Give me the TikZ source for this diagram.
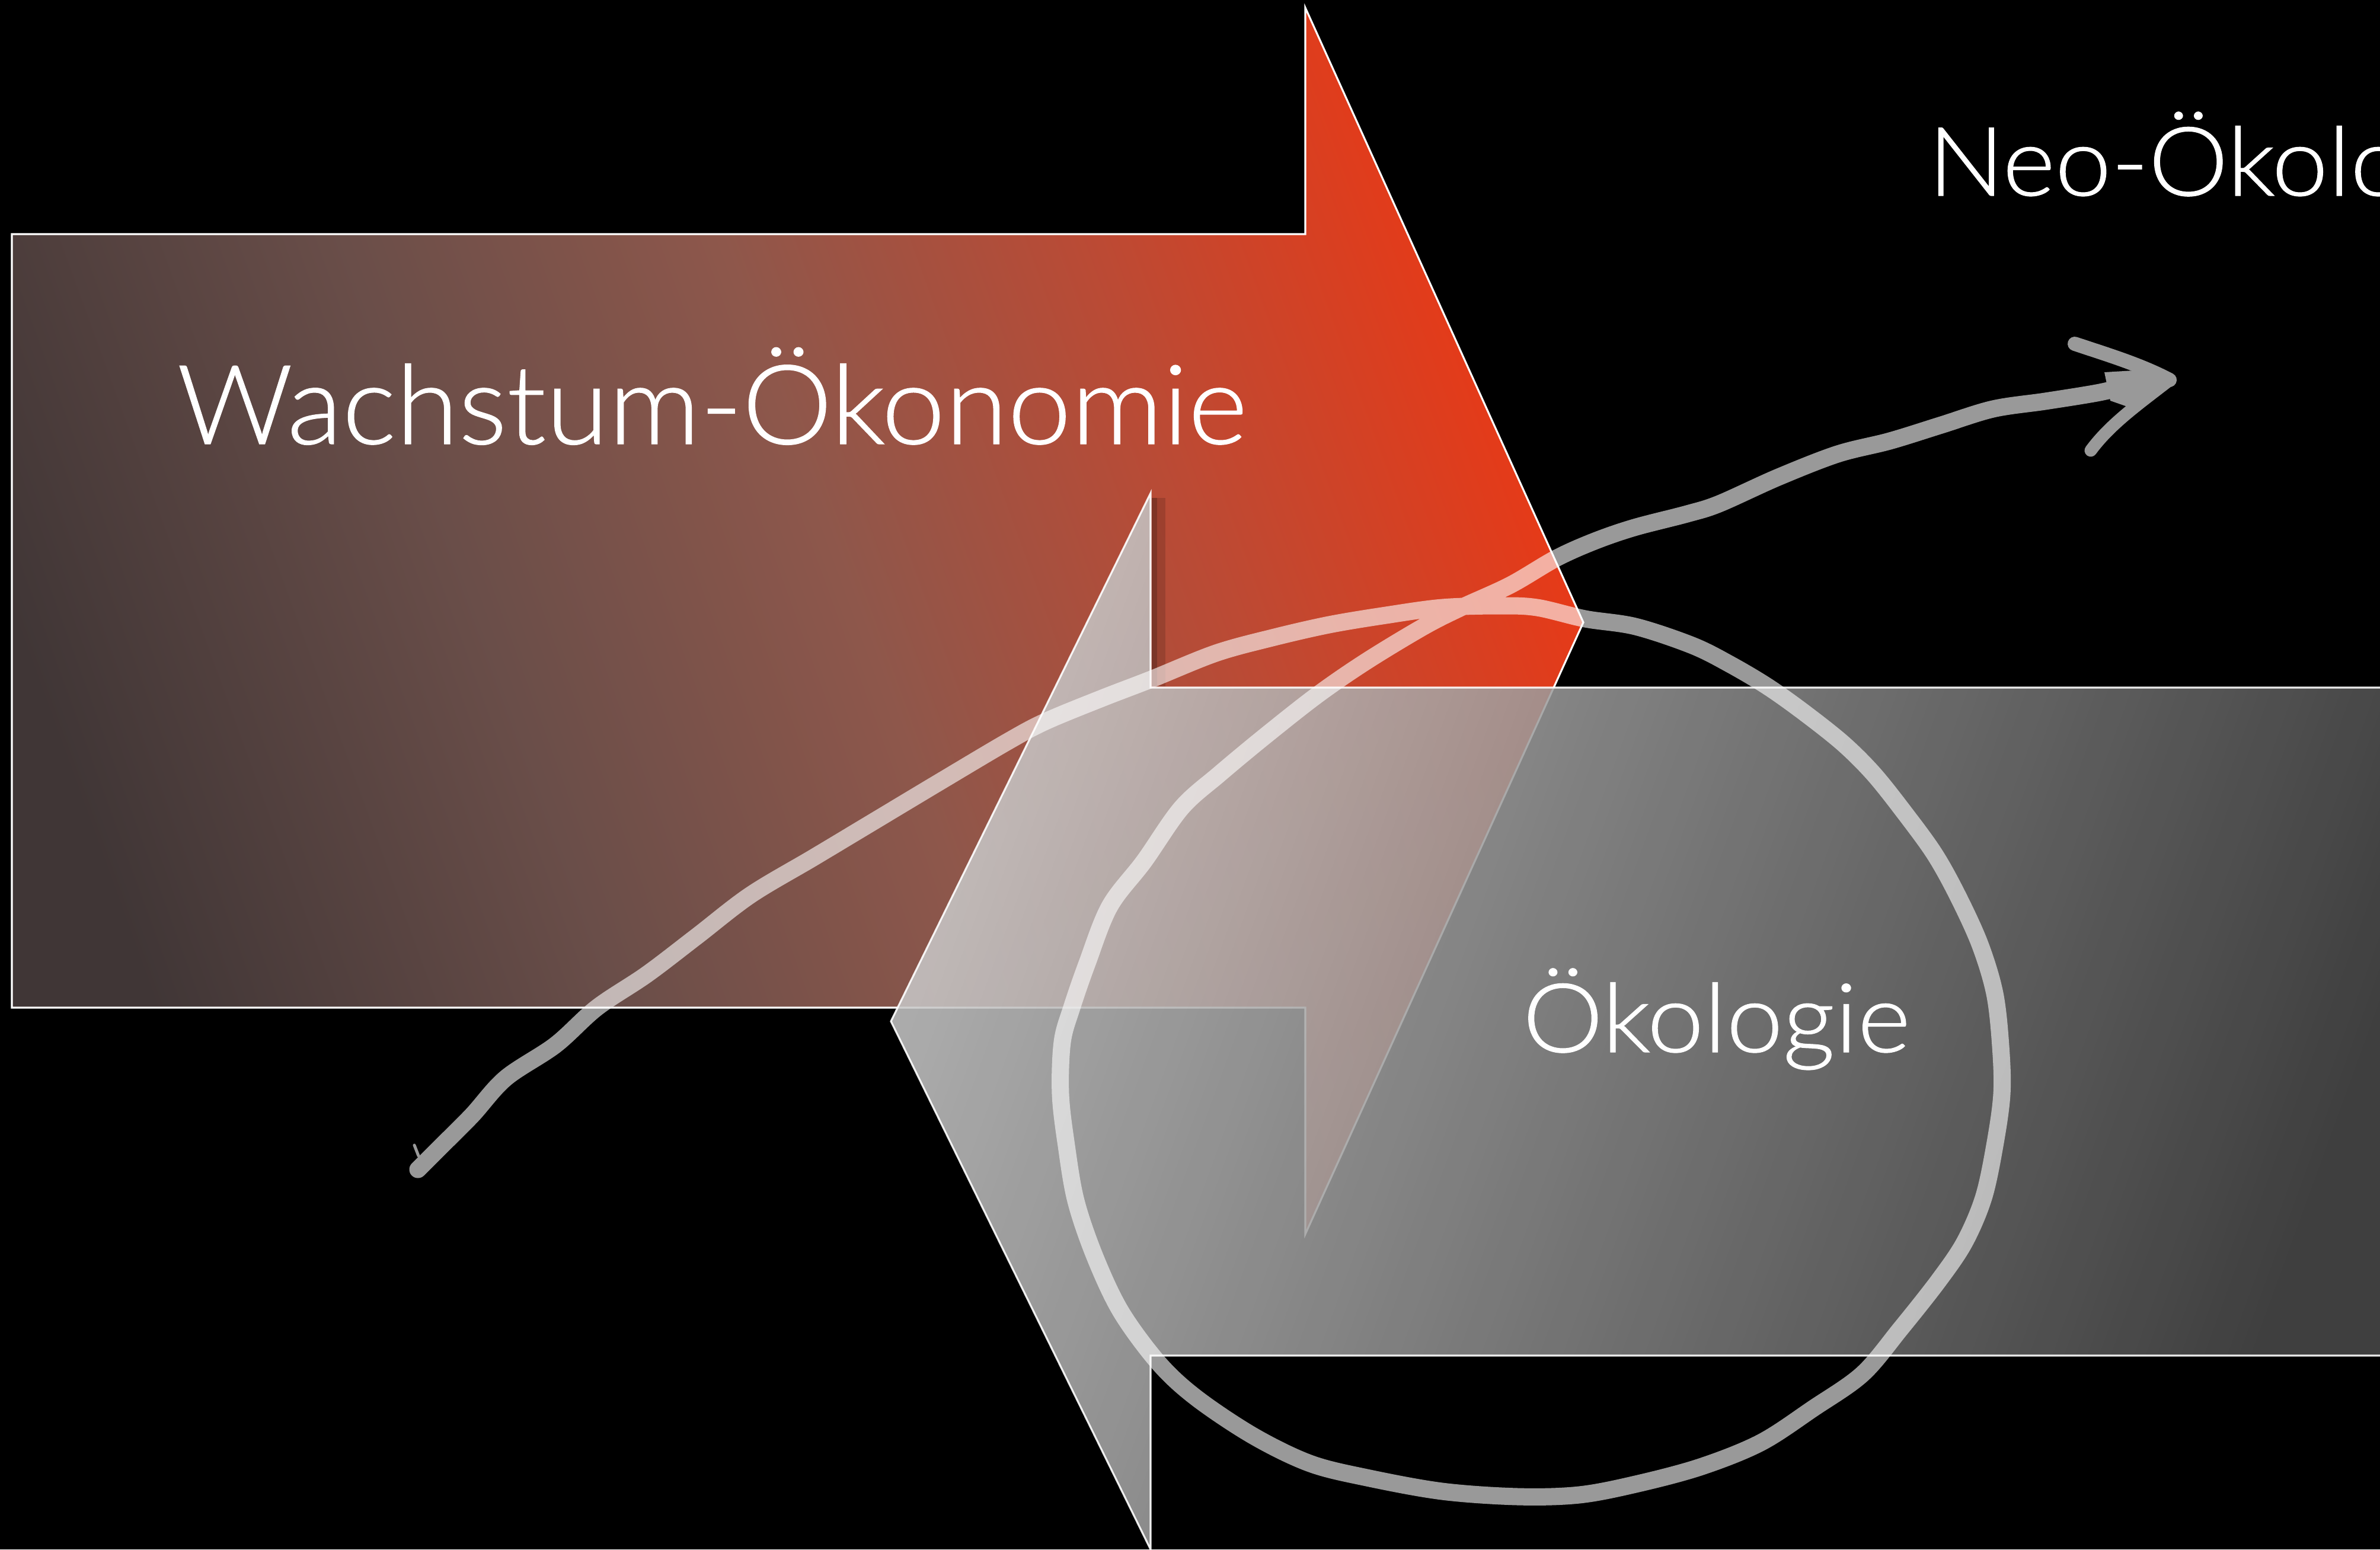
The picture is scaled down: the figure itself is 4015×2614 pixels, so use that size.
\documentclass[tikz,border=0pt]{standalone}
\usepackage{fontspec}
\setmainfont{Lato Light}[FakeBold=0.7]
\usetikzlibrary{arrows.meta}
\definecolor{redA}{HTML}{403636}
\definecolor{redB}{HTML}{6A4E49}
\definecolor{redC}{HTML}{8E574B}
\definecolor{redD}{HTML}{BC4A34}
\definecolor{redE}{HTML}{E63A18}
\definecolor{grayL}{HTML}{C8C8C8}
\definecolor{grayR}{HTML}{4A4A4A}
\definecolor{strokegray}{HTML}{999999}
\pgfdeclarehorizontalshading{redshade}{100bp}{color(0bp)=(redA); color(25bp)=(redA); color(40bp)=(redB); color(52bp)=(redC); color(64bp)=(redD); color(75bp)=(redE); color(100bp)=(redE)}
\tikzset{
  redarrow/.style={shading=redshade, shading angle=20, draw=white, line width=0.9pt, line join=miter},
  grayarrow/.style={left color=grayL, right color=grayR, shading angle=70, fill opacity=0.86, draw=white, draw opacity=0.9, line width=0.9pt},
  bigtext/.style={anchor=base west, inner sep=0pt, text=white},
  spiral/.style={draw=white, draw opacity=0.6, line width=0.29cm, line cap=round, line join=round},
  barb/.style={draw=strokegray, line width=0.24cm, line cap=round, line join=round}
}
\begin{document}
\begin{tikzpicture}[x=0.01cm,y=-0.01cm]
\fill[black] (0,0) rectangle (4015,2614);
\useasboundingbox (0,0) rectangle (4015,2614);
\clip (0,0) rectangle (4015,2614);

% red arrow (right-pointing)
\shadedraw[redarrow] (20,395) -- (2202,395) -- (2202,13) -- (2671,1050) -- (2202,2082) -- (2202,1700) -- (20,1700) -- cycle;

% gray arrow (left-pointing)
\shadedraw[grayarrow] (4040,1160) -- (1941,1160) -- (1941,832) -- (1503,1723) -- (1941,2614) -- (1941,2287) -- (4040,2287) -- cycle;
% soft shadow right of the vertical edge
\fill[black, opacity=0.30] (1943,840) rectangle (1952,1158);
\fill[black, opacity=0.14] (1952,840) rectangle (1966,1158);

% texts
\node[bigtext, font=\fontsize{53}{60}\selectfont] (wachstum) at (298,749) {\scalebox{1.03}[1]{Wachstum-Ökonomie}};
\node[bigtext, font=\fontsize{46}{54}\selectfont] (oekologie) at (2568,1775) {\scalebox{1.06}[1]{Ökologie}};
\node[bigtext, font=\fontsize{46}{54}\selectfont] (neo) at (3252,330) {\scalebox{1.05}[1]{Neo-Ökolo}};

% hand-drawn spiral line
\draw[spiral] plot[smooth, tension=0.55] coordinates {
(705,1973) (740,1938) (796,1882) (853,1819) (937,1763) (1007,1700) (1091,1644)
(1175,1580) (1266,1510) (1372,1447) (1477,1384) (1582,1321) (1700,1251) (1764,1217)
(1859,1178) (1942,1146) (2051,1102) (2146,1076) (2242,1054) (2338,1038) (2433,1025)
(2529,1022) (2593,1025) (2674,1044) (2759,1057) (2855,1089) (2919,1121) (2983,1159)
(3046,1204) (3110,1255) (3161,1306) (3212,1370) (3263,1440) (3302,1510) (3340,1593)
(3365,1676) (3375,1765) (3377,1846) (3365,1933) (3346,2021) (3314,2096) (3270,2161)
(3206,2242) (3142,2318) (3059,2376) (2970,2434) (2868,2475) (2759,2504) (2664,2522)
(2561,2525) (2433,2516) (2306,2493) (2210,2469) (2115,2423) (2019,2359) (1955,2300)
(1891,2213) (1847,2120) (1815,2026) (1799,1933) (1789,1846) (1792,1758) (1808,1700)
(1834,1625) (1872,1529) (1930,1453) (1993,1363) (2057,1306) (2134,1242) (2223,1172)
(2306,1115) (2402,1057) (2465,1025) (2548,987) (2625,942) (2690,913) (2757,890)
(2846,867) (2900,850) (3000,805) (3100,766) (3188,744) (3275,717) (3362,690)
(3450,677) (3537,663) (3596,650) (3640,645)};
% small tick at the start
\draw[barb, line width=0.05cm] (699,1932) -- (706,1950);
% hand-drawn arrowhead
\coordinate (tip) at (3660,641);
\draw[barb] (3500,580) .. controls (3560,600) and (3610,615) .. (tip);
\draw[barb, line width=0.21cm] (tip) .. controls (3610,680) and (3560,715) .. (3527,760);
\fill[strokegray] (3550,628) -- (3600,625) -- (3668,641) -- (3600,690) -- (3560,676) -- cycle;
\end{tikzpicture}
\end{document}
